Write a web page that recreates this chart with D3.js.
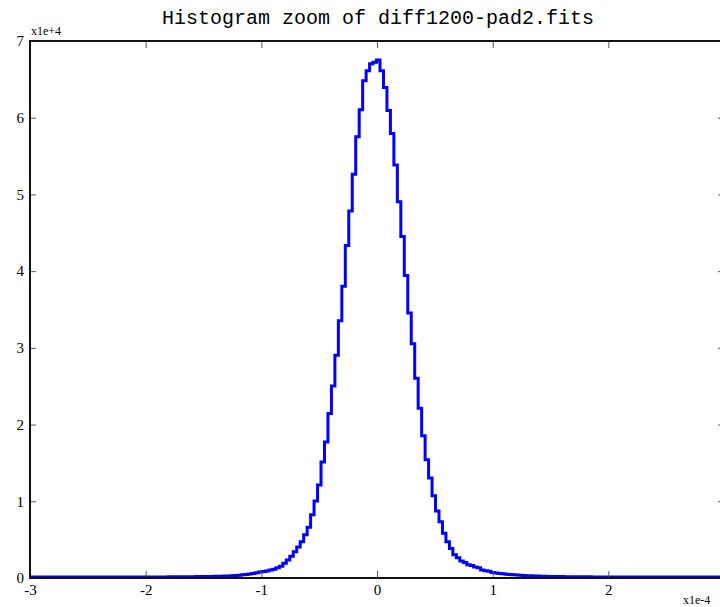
<!DOCTYPE html>
<html>
<head>
<meta charset="utf-8">
<script src="https://cdn.jsdelivr.net/npm/d3@7"></script>
<style>
  body { margin: 0; background: #fff; }
  svg { display: block; }
</style>
</head>
<body>
<div id="chart"></div>
<script>
// Chart text
const title = "Histogram zoom of diff1200-pad2.fits";
const xMultiplier = "x1e-4";
const yMultiplier = "x1e+4";

// Tick values (axis units: x in 1e-4, y in 1e+4)
const xTicks = [-3, -2, -1, 0, 1, 2, 3];
const yTicks = [0, 1, 2, 3, 4, 5, 6, 7];

// Histogram bins (x1e-4): first edge and width
const binStart = -3.004;
const binWidth = 0.03;

// Counts per bin
const counts = [
  0, 0, 0, 0, 0, 0, 0, 0, 0, 0,
  0, 0, 0, 0, 0, 0, 0, 0, 0, 0,
  0, 0, 0, 0, 0, 0, 0, 0, 0, 0,
  10, 10, 10, 10, 10, 10, 10, 10, 10, 10,
  20, 20, 20, 30, 30, 30, 40, 40, 50, 50,
  60, 70, 80, 90, 100, 110, 120, 140, 160, 190,
  230, 280, 330, 390, 460, 550, 650, 720, 780, 900,
  1000, 1200, 1400, 1800, 2200, 2700, 3300, 3900, 4600, 5500,
  6500, 8100, 9900, 12000, 15000, 17600, 21300, 24900, 28900, 33400,
  37900, 43200, 47700, 52500, 57400, 60900, 64700, 66000, 66900, 67100,
  67400, 66000, 63800, 60800, 57800, 53700, 48900, 44400, 39300, 34400,
  30400, 25900, 22000, 18400, 15300, 12900, 10600, 8600, 7200, 5700,
  4600, 3700, 2900, 2500, 2100, 1900, 1600, 1500, 1300, 1200,
  900, 800, 750, 600, 520, 460, 410, 360, 320, 280,
  250, 220, 190, 170, 150, 130, 120, 100, 90, 80,
  70, 60, 50, 50, 40, 40, 30, 30, 30, 20,
  20, 20, 10, 10, 10, 10, 10, 10, 10, 10,
  10, 0, 0, 0, 0, 0, 0, 0, 0, 0,
  0, 0, 0, 0, 0, 0, 0, 0, 0, 0,
  0, 0, 0, 0, 0, 0, 0, 0, 0, 0
];

const width = 720, height = 607;
const plot = { left: 30, right: 724, top: 41, bottom: 578 };

const svg = d3.select("#chart")
  .append("svg")
  .attr("width", width)
  .attr("height", height);

// Scales
const x = d3.scaleLinear().domain([-3, 3]).range([plot.left, plot.right]);
const y = d3.scaleLinear().domain([0, 7e4]).range([plot.bottom, plot.top]);

// Clip to the plot frame
svg.append("clipPath")
  .attr("id", "clip")
  .append("rect")
  .attr("x", plot.left)
  .attr("y", plot.top - 4)
  .attr("width", plot.right - plot.left)
  .attr("height", plot.bottom - plot.top + 6);

// Step line of the histogram
const pts = counts.map((c, i) => [binStart + i * binWidth, c]);
pts.push([binStart + counts.length * binWidth, counts[counts.length - 1]]);

const line = d3.line()
  .x(d => x(d[0]))
  .y(d => y(d[1]) - 1)
  .curve(d3.curveStepAfter);

svg.append("path")
  .datum(pts)
  .attr("clip-path", "url(#clip)")
  .attr("fill", "none")
  .attr("stroke", "#0000ff")
  .attr("stroke-width", 3)
  .attr("stroke-linejoin", "miter")
  .attr("d", line);

// Axes: ticks point inwards
// the "3" label sits past the window edge, so it is left blank
const fmtX = d => (x(d) > width - 8 ? "" : String(d));
const fmt = d => String(d);
const tickFont = "'Liberation Serif', 'DejaVu Serif', serif";

const xAxis = svg.append("g")
  .attr("transform", `translate(0,${plot.bottom})`)
  .call(d3.axisBottom(x).tickValues(xTicks).tickFormat(fmtX).tickSizeInner(-7).tickSizeOuter(0).tickPadding(6));

const xAxisTop = svg.append("g")
  .attr("transform", `translate(0,${plot.top})`)
  .call(d3.axisTop(x).tickValues(xTicks).tickFormat("").tickSizeInner(-7).tickSizeOuter(0));

const yAxis = svg.append("g")
  .attr("transform", `translate(${plot.left},0)`)
  .call(d3.axisLeft(y).tickValues(yTicks.map(v => v * 1e4)).tickFormat(d => fmt(d / 1e4)).tickSizeInner(-6).tickSizeOuter(0).tickPadding(6));

const yAxisRight = svg.append("g")
  .attr("transform", `translate(${plot.right},0)`)
  .call(d3.axisRight(y).tickValues(yTicks.map(v => v * 1e4)).tickFormat("").tickSizeInner(-6).tickSizeOuter(0));

[xAxis, xAxisTop, yAxis, yAxisRight].forEach(g => {
  g.select(".domain").remove();
  g.selectAll(".tick line").attr("stroke", "#555").attr("stroke-width", 1);
  g.selectAll(".tick text")
    .attr("fill", "#000")
    .style("font-family", tickFont)
    .style("font-size", "15px");
});

// Frame
svg.append("rect")
  .attr("x", plot.left)
  .attr("y", plot.top)
  .attr("width", plot.right - plot.left)
  .attr("height", plot.bottom - plot.top)
  .attr("fill", "none")
  .attr("stroke", "#111")
  .attr("stroke-width", 2);

// Multipliers
svg.append("text")
  .attr("x", plot.left + 1)
  .attr("y", plot.top - 6)
  .style("font-family", tickFont)
  .style("font-size", "12px")
  .text(yMultiplier);

svg.append("text")
  .attr("x", 683)
  .attr("y", 604)
  .style("font-family", tickFont)
  .style("font-size", "12px")
  .text(xMultiplier);

// Title
svg.append("text")
  .attr("x", 378)
  .attr("y", 24)
  .attr("text-anchor", "middle")
  .style("font-family", "'Liberation Mono', 'DejaVu Sans Mono', monospace")
  .style("font-size", "20px")
  .text(title);
</script>
</body>
</html>
